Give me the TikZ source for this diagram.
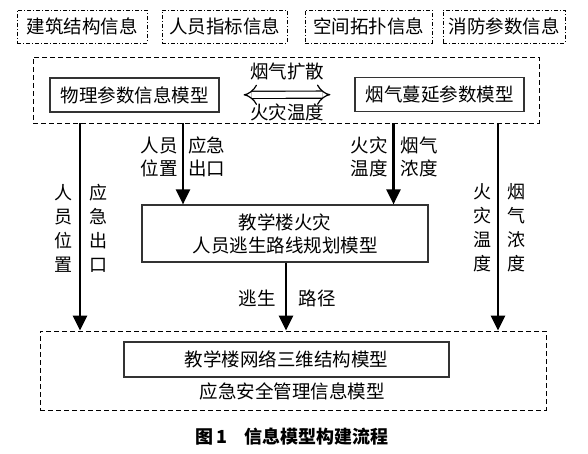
\documentclass[tikz,border=0pt]{standalone}
\usepackage{fontspec}
\setmainfont{Noto Sans CJK SC}
\usetikzlibrary{arrows.meta}

\begin{document}
\begin{tikzpicture}[x=1pt,y=-1pt,
    font=\fontsize{18.5}{23}\selectfont,
    infobox/.style={draw,line width=0.8pt,dash pattern=on 4pt off 2pt on 1pt off 2pt,minimum height=33pt,inner sep=1pt},
    groupbox/.style={draw,line width=0.8pt,dash pattern=on 5pt off 3pt},
    modelbox/.style={draw=black!80,line width=1.2pt,minimum height=34pt,inner sep=2pt},
    flow/.style={line width=2.4pt,-{Triangle[length=15pt,width=14pt]}},
    vlabel/.style={align=center,inner sep=0pt,font=\fontsize{18}{24}\selectfont},
    hlabel/.style={align=center,inner sep=0pt}
  ]
  \useasboundingbox (0,0) rectangle (588,454);

  % source information
  \node[infobox,minimum width=130pt] (build) at (82,26.5) {建筑结构信息};
  \node[infobox,minimum width=125pt] (person) at (224.5,26.5) {人员指标信息};
  \node[infobox,minimum width=127pt] (space) at (368.5,26.5) {空间拓扑信息};
  \node[infobox,minimum width=122pt] (firepar) at (504,26.5) {消防参数信息};

  % simulation models
  \node[groupbox,minimum width=506pt,minimum height=66pt] (sim) at (286,90) {};
  \node[modelbox,minimum width=169pt] (phys) at (134.5,95) {物理参数信息模型};
  \node[modelbox,minimum width=169pt] (smoke) at (439.5,94.5) {烟气蔓延参数模型};
  \draw[line width=1.2pt,double distance=6pt,{Implies[length=11pt,width=20pt]}-{Implies[length=11pt,width=20pt]},
    shorten <=24pt,shorten >=24pt] (phys) -- (smoke);
  \node[hlabel] (spread) at (287,72) {烟气扩散};
  \node[hlabel] (temp) at (287,112) {火灾温度};

  % path planning
  \node[modelbox,minimum width=286pt,minimum height=57pt,align=center] (plan) at (285,233.5)
    {教学楼火灾\\人员逃生路线规划模型};

  % management model
  \node[groupbox,minimum width=506pt,minimum height=79pt] (emerg) at (293,370.5) {};
  \node[modelbox,minimum width=325pt,minimum height=35pt] (bim) at (286.5,359.5) {教学楼网络三维结构模型};
  \node[hlabel] (emergtxt) at (292,391) {应急安全管理信息模型};

  % connectors
  \coordinate (xa) at (80,0);
  \coordinate (xb) at (183,0);
  \coordinate (xc) at (393.5,0);
  \coordinate (xd) at (498,0);
  \draw[flow] (xa |- sim.south) -- (xa |- emerg.north);
  \draw[flow] (xb |- sim.south) -- (xb |- plan.north);
  \draw[flow] (xc |- sim.south) -- (xc |- plan.north);
  \draw[flow] (xd |- sim.south) -- (xd |- emerg.north);
  \draw[flow] (plan.south -| 286,0) -- (286,0 |- emerg.north);

  % arrow labels
  \node[vlabel] (posa) at (63.5,228) {人\\员\\位\\置};
  \node[vlabel] (exita) at (98,228) {应\\急\\出\\口};
  \node[hlabel] (posb) at (159,156.5) {人员\\位置};
  \node[hlabel] (exitb) at (206.5,156.5) {应急\\出口};
  \node[hlabel] (tempc) at (369,156.5) {火灾\\温度};
  \node[hlabel] (smokec) at (419,156.5) {烟气\\浓度};
  \node[vlabel] (tempd) at (482,228) {火\\灾\\温\\度};
  \node[vlabel] (smoked) at (516,228) {烟\\气\\浓\\度};
  \node[hlabel] (escape) at (257,298) {逃生};
  \node[hlabel] (route) at (317,298) {路径};

  % caption
  \node[font=\fontsize{18}{22}\selectfont\bfseries] (caption) at (292,437) {图\,1\quad 信息模型构建流程};
\end{tikzpicture}
\end{document}
